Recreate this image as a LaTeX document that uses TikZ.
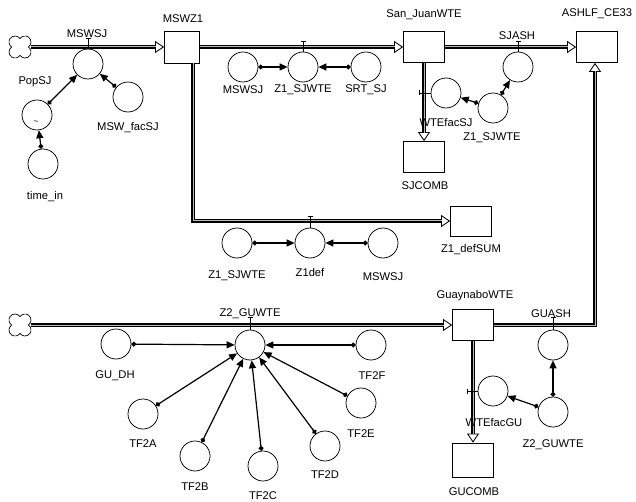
\documentclass[tikz,border=0pt]{standalone}
\usepackage{fontspec}
\setmainfont{Liberation Sans}
\usetikzlibrary{arrows.meta}
\begin{document}
\begin{tikzpicture}[x=1pt,y=-1pt,font=\fontsize{11.2}{13}\selectfont,
  aux/.style={draw,circle,minimum size=30pt,inner sep=0pt,line width=0.75pt},
  stock/.style={draw,rectangle,minimum width=41pt,minimum height=31pt,inner sep=0pt,line width=0.75pt},
  lab/.style={inner sep=0pt},
  srcnode/.style={inner sep=0pt,minimum size=22pt},
  cloudline/.style={draw,line width=0.7pt},
  flow/.style={draw,line width=0.85pt,-{Triangle[open,length=9pt,width=12pt,line width=0.85pt]},
    postaction={draw,-,line width=3.4pt,shorten >=8.5pt},
    postaction={draw=gray!55,-,line width=1pt,shorten >=8.5pt}},
  conn/.style={draw,line width=1.2pt,{Circle[length=4.8pt]}-{Triangle[length=8pt,width=7pt]}},
  tick/.style={draw,line width=0.7pt}]
\useasboundingbox (0,0) rectangle (636,502);

% ---- stocks and sources
\node[srcnode] (cloudA) at (20,47) {};
\node[stock,minimum width=35pt,minimum height=32pt] (MSWZ1) at (182,47) {};
\node[stock] (SanJuan) at (424,47) {};
\node[stock] (ASHLF) at (597,47) {};
\node[stock] (SJCOMB) at (424,157) {};
\node[stock,minimum height=30pt] (Z1defSUM) at (471,221) {};
\node[srcnode] (cloudB) at (20,325) {};
\node[stock] (Guaynabo) at (473,325) {};
\node[stock,minimum height=34pt] (GUCOMB) at (473,460) {};

% ---- clouds (sources)
\begin{scope}[shift={(cloudA)},x=1pt,y=1pt]
\draw[cloudline] (0,8.317) arc[start angle=146.44,end angle=-56.44,radius=6]
  arc[start angle=56.44,end angle=-146.44,radius=6]
  arc[start angle=-33.56,end angle=-236.44,radius=6]
  arc[start angle=-123.56,end angle=-326.44,radius=6] -- cycle;
\end{scope}
\begin{scope}[shift={(cloudB)},x=1pt,y=1pt]
\draw[cloudline] (0,8.317) arc[start angle=146.44,end angle=-56.44,radius=6]
  arc[start angle=56.44,end angle=-146.44,radius=6]
  arc[start angle=-33.56,end angle=-236.44,radius=6]
  arc[start angle=-123.56,end angle=-326.44,radius=6] -- cycle;
\end{scope}

% ---- flows
\draw[flow] (cloudA.east) -- (cloudA.east -| MSWZ1.west);
\draw[flow] (MSWZ1.east) -- (MSWZ1.east -| SanJuan.west);
\draw[flow] (SanJuan.east) -- (ASHLF.west);
\draw[flow] ([xshift=11pt]MSWZ1.south) |- (Z1defSUM.west);
\draw[flow] (SanJuan.south) -- (SJCOMB.north);
\draw[flow] (cloudB.east) -- (cloudB.east -| Guaynabo.west);
\draw[flow] (Guaynabo.east) -| ([xshift=-2pt]ASHLF.south);
\draw[flow] (Guaynabo.south) -- (GUCOMB.north);

% ---- converters / valves
\node[aux] (vMSWSJ) at (88,64) {};
\node[aux] (PopSJ) at (37,115) {};
\node[lab,font=\fontsize{9}{10}\selectfont] (popsym) at (36,123) {\textasciitilde};
\node[aux] (MSWfacSJ) at (128,97) {};
\node[aux] (timein) at (43,164) {};

\node[aux] (MSWSJb) at (243,67) {};
\node[aux] (vZ1SJWTE) at (303,67) {};
\node[aux] (SRTSJ) at (366,67) {};

\node[aux] (vSJASH) at (518,67) {};
\node[aux] (vWTEfacSJ) at (446,93) {};
\node[aux] (Z1SJWTEc) at (493,108) {};

\node[aux] (Z1SJWTEd) at (237,243) {};
\node[aux] (vZ1def) at (310,243) {};
\node[aux] (MSWSJd) at (383,243) {};

\node[aux] (vZ2GUWTE) at (250,345) {};
\node[aux] (GUDH) at (116,344) {};
\node[aux] (TF2A) at (143,414) {};
\node[aux] (TF2B) at (195,456) {};
\node[aux] (TF2C) at (263,466) {};
\node[aux] (TF2D) at (325,446) {};
\node[aux] (TF2E) at (361,403) {};
\node[aux] (TF2F) at (371,345) {};

\node[aux] (vGUASH) at (553,345) {};
\node[aux] (vWTEfacGU) at (493,391) {};
\node[aux] (Z2GUWTEb) at (553,412) {};

% ---- valve ticks
\draw[tick] (vMSWSJ.north) -- ++(0,-10) ++(-2.5,0) -- ++(5,0);
\draw[tick] (vZ1SJWTE.north) -- ++(0,-10) ++(-2.5,0) -- ++(5,0);
\draw[tick] (vSJASH.north) -- ++(0,-10) ++(-2.5,0) -- ++(5,0);
\draw[tick] (vZ1def.north) -- ++(0,-11) ++(-2.5,0) -- ++(5,0);
\draw[tick] (vZ2GUWTE.north) -- ++(0,-12) ++(-2.5,0) -- ++(5,0);
\draw[tick] (vGUASH.north) -- ++(0,-12) ++(-2.5,0) -- ++(5,0);
\draw[tick] (vWTEfacSJ.west) -- ++(-11,0) ++(0,-2.5) -- ++(0,5);
\draw[tick] (vWTEfacGU.west) -- ++(-10,0) ++(0,-2.5) -- ++(0,5);

% ---- connectors
\draw[conn] (PopSJ) -- (vMSWSJ);
\draw[conn] (MSWfacSJ) -- (vMSWSJ);
\draw[conn] (timein) -- (PopSJ);
\draw[conn] (MSWSJb) -- (vZ1SJWTE);
\draw[conn] (SRTSJ) -- (vZ1SJWTE);
\draw[conn] (Z1SJWTEc) -- (vSJASH);
\draw[conn] (Z1SJWTEc) -- (vWTEfacSJ);
\draw[conn] (Z1SJWTEd) -- (vZ1def);
\draw[conn] (MSWSJd) -- (vZ1def);
\draw[conn] (GUDH) -- (vZ2GUWTE);
\draw[conn] (TF2A) -- (vZ2GUWTE);
\draw[conn] (TF2B) -- (vZ2GUWTE);
\draw[conn] (TF2C) -- (vZ2GUWTE);
\draw[conn] (TF2D) -- (vZ2GUWTE);
\draw[conn] (TF2E) -- (vZ2GUWTE);
\draw[conn] (TF2F) -- (vZ2GUWTE);
\draw[conn] (Z2GUWTEb) -- (vGUASH);
\draw[conn] (Z2GUWTEb) -- (vWTEfacGU);

% ---- labels
\node[lab] (lMSWZ1) at (183,19) {MSWZ1};
\node[lab] (lSanJuan) at (424,15) {San\_JuanWTE};
\node[lab] (lASHLF) at (597,14) {ASHLF\_CE33};
\node[lab] (lMSWSJ) at (87,34) {MSWSJ};
\node[lab] (lPopSJ) at (35,82) {PopSJ};
\node[lab] (lMSWfacSJ) at (128,128) {MSW\_facSJ};
\node[lab] (ltimein) at (45,197) {time\_in};
\node[lab] (lMSWSJb) at (243,90) {MSWSJ};
\node[lab] (lZ1SJWTE) at (303,90) {Z1\_SJWTE};
\node[lab] (lSRTSJ) at (366,90) {SRT\_SJ};
\node[lab] (lSJASH) at (517,36) {SJASH};
\node[lab] (lWTEfacSJ) at (446,123) {WTEfacSJ};
\node[lab] (lZ1SJWTEc) at (492,138) {Z1\_SJWTE};
\node[lab] (lSJCOMB) at (425,186) {SJCOMB};
\node[lab] (lZ1defSUM) at (471,250) {Z1\_defSUM};
\node[lab] (lZ1SJWTEd) at (237,276) {Z1\_SJWTE};
\node[lab] (lZ1def) at (310,272) {Z1def};
\node[lab] (lMSWSJd) at (383,277) {MSWSJ};
\node[lab] (lGuaynabo) at (475,296) {GuaynaboWTE};
\node[lab] (lZ2GUWTE) at (250,314) {Z2\_GUWTE};
\node[lab] (lGUDH) at (115,376) {GU\_DH};
\node[lab] (lTF2A) at (143,444) {TF2A};
\node[lab] (lTF2B) at (195,487) {TF2B};
\node[lab] (lTF2C) at (263,496) {TF2C};
\node[lab] (lTF2D) at (325,475) {TF2D};
\node[lab] (lTF2E) at (361,434) {TF2E};
\node[lab] (lTF2F) at (372,376) {TF2F};
\node[lab] (lGUASH) at (551,314) {GUASH};
\node[lab] (lWTEfacGU) at (494,422) {WTEfacGU};
\node[lab] (lZ2GUWTEb) at (553,445) {Z2\_GUWTE};
\node[lab] (lGUCOMB) at (474,492) {GUCOMB};
\end{tikzpicture}
\end{document}
